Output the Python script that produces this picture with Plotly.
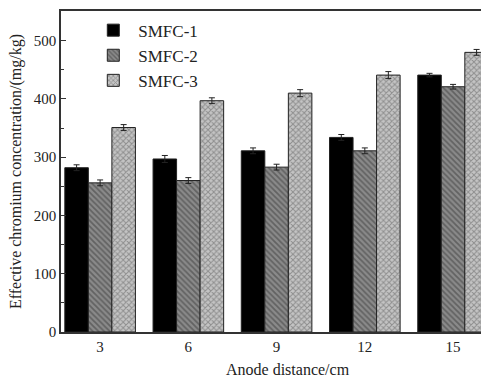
import plotly.graph_objects as go

distances = [3, 6, 9, 12, 15]
tick_labels = ["3", "6", "9", "12", "15"]
series_names = ["SMFC-1", "SMFC-2", "SMFC-3"]
smfc1 = [282, 297, 311, 334, 441]
smfc2 = [256, 260, 283, 311, 421]
smfc3 = [351, 397, 410, 441, 480]
err1 = [5, 6, 5, 5, 3]
err2 = [5, 5, 5, 5, 4]
err3 = [5, 5, 6, 6, 5]

FONT = "Liberation Serif"

styles = [
    dict(marker_color="#000000", pattern=None),
    dict(marker_color="#8a8a8a", pattern=dict(shape="\\", fgcolor="#3a3a3a", bgcolor="#8a8a8a", size=4, solidity=0.45)),
    dict(marker_color="#b0b0b0", pattern=dict(shape="x", fgcolor="#5a5a5a", bgcolor="#c4c4c4", size=4, solidity=0.45)),
]

fig = go.Figure()
for name, vals, errs, st in zip(series_names, [smfc1, smfc2, smfc3], [err1, err2, err3], styles):
    marker = dict(color=st["marker_color"], line=dict(color="#222222", width=1))
    if st["pattern"]:
        marker["pattern"] = st["pattern"]
    fig.add_trace(go.Bar(
        x=distances, y=vals, name=name, marker=marker,
        error_y=dict(type="data", array=errs, color="#222222", thickness=1, width=3),
    ))

fig.update_layout(
    width=481, height=381,
    margin=dict(l=61, r=0, t=11, b=49),
    barmode="group", bargap=0.2, bargroupgap=0,
    plot_bgcolor="white", paper_bgcolor="white",
    font=dict(family=FONT, size=15, color="#222222"),
    showlegend=True,
    legend=dict(x=0.065, y=0.995, xanchor="left", yanchor="top",
                font=dict(family=FONT, size=17, color="#222222"),
                bgcolor="rgba(0,0,0,0)", tracegroupgap=0, itemwidth=40),
    xaxis=dict(range=[1.67, 15.95], tickvals=distances, ticktext=tick_labels,
               showline=True, mirror=True, linecolor="#333333", linewidth=1.5,
               ticks="", showgrid=False, zeroline=False,
               tickfont=dict(family=FONT, size=15)),
    yaxis=dict(range=[0, 551], dtick=100, showline=True, linecolor="#333333", linewidth=1.5,
               ticks="inside", ticklen=5, tickcolor="#333333", showgrid=False, zeroline=False,
               minor=dict(dtick=50, ticks="inside", ticklen=3, tickcolor="#333333"),
               tickfont=dict(family=FONT, size=15),
               title=dict(text="Effective chromium concentration/(mg/kg)", font=dict(family=FONT, size=16), standoff=8)),
    annotations=[dict(text="Anode distance/cm", xref="paper", yref="paper", x=0.54, y=-0.118,
                      xanchor="center", yanchor="middle", showarrow=False,
                      font=dict(family=FONT, size=16, color="#222222"))],
)

fig.write_html("out.html")
